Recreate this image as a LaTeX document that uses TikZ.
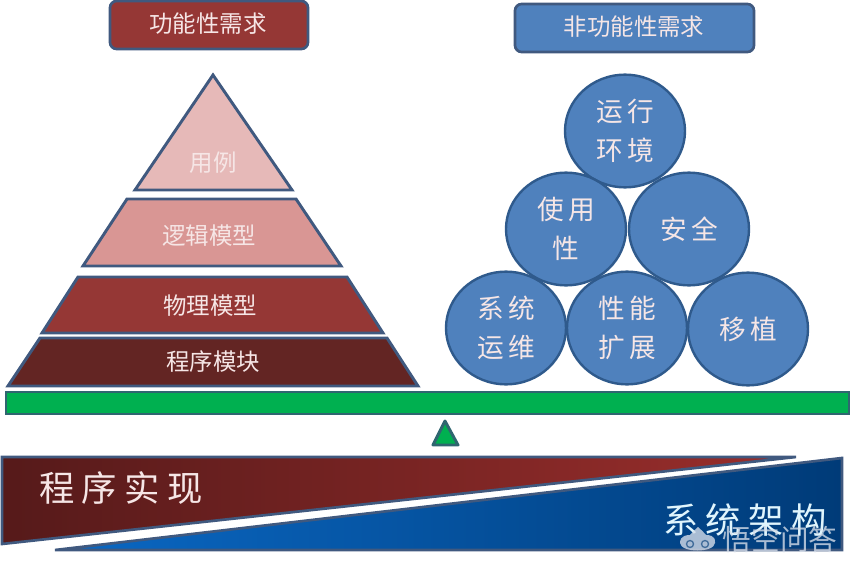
\documentclass[tikz,border=0pt]{standalone}
\usepackage{fontspec}
\usetikzlibrary{shapes.geometric}
\setmainfont{Noto Sans CJK SC}
\definecolor{edgeblue}{HTML}{40597F}
\definecolor{balledge}{HTML}{2F5A8C}
\definecolor{redmid}{HTML}{953735}
\definecolor{pale}{HTML}{E6B9B8}
\definecolor{rose}{HTML}{D99694}
\definecolor{dark}{HTML}{632523}
\definecolor{bluemid}{HTML}{4F81BD}
\definecolor{barfill}{HTML}{00B050}
\definecolor{baredge}{HTML}{2F6670}
\definecolor{inktext}{HTML}{F6E6E6}
\definecolor{wedgeredl}{HTML}{561A1A}
\definecolor{wedgeredr}{HTML}{9A2E2C}
\definecolor{wedgebluel}{HTML}{0A68C4}
\definecolor{wedgebluer}{HTML}{003B78}
\definecolor{marktext}{HTML}{D4DCE8}
\tikzset{
  head/.style={draw=edgeblue,line width=2pt,rounded corners=5pt,line join=round},
  layer/.style={draw=edgeblue,line width=2.2pt,line join=miter},
  label/.style={text=inktext,font=\fontsize{17.6}{20}\selectfont,inner sep=0pt},
  ball/.style={ellipse,draw=balledge,fill=bluemid,line width=1.8pt,minimum width=90pt,minimum height=84.5pt,inner sep=0pt,
    text=inktext,align=center,font=\fontsize{20}{29}\selectfont},
  beam/.style={draw=baredge,fill=barfill,line width=2.2pt},
  big/.style={text=inktext,font=\fontsize{26.5}{30}\selectfont,inner sep=0pt},
}
\newcommand{\gp}{\hspace{3pt}}
\newcommand{\gq}{\hspace{5.5pt}}
\begin{document}
\begin{tikzpicture}[x=0.75pt,y=-0.75pt]
\useasboundingbox (0,0) rectangle (854,571);
% headers
\draw[head,fill=redmid] (110,1) rectangle (308,49);
\node[label] (hl) at (208,24) {功能性需求};
\draw[head,fill=bluemid] (515,4) rectangle (754,52);
\node[label] (hr) at (634,27) {非功能性需求};
% pyramid
\draw[layer,fill=pale] (213,75) -- (292,190) -- (135,190) -- cycle;
\node[label] (p1) at (213,163) {用例};
\draw[layer,fill=rose] (127,199) -- (296,199) -- (341,266) -- (83,266) -- cycle;
\node[label] (p2) at (209,236) {逻辑模型};
\draw[layer,fill=redmid] (78,277) -- (347,277) -- (383,333) -- (42,333) -- cycle;
\node[label] (p3) at (210,306) {物理模型};
\draw[layer,fill=dark] (40,338) -- (387,338) -- (418,386) -- (8,386) -- cycle;
\node[label] (p4) at (213,362) {程序模块};
% balls
\node[ball] (b1) at (625,131) {运\gp 行\\环\gp 境};
\node[ball] (b2) at (566,229) {使\gp 用\\性};
\node[ball] (b3) at (689,229) {安\gp 全};
\node[ball] (b4) at (506,328) {系\gp 统\\运\gp 维};
\node[ball] (b5) at (627,328) {性\gp 能\\扩\gp 展};
\node[ball] (b6) at (748,329) {移\gp 植};
% beam and pivot
\draw[beam] (6,392) rectangle (849,414);
\draw[beam,line join=round] (445,421) -- (458,445) -- (433,445) -- cycle;
% wedges
\draw[draw=edgeblue,line width=2pt,line join=miter,left color=wedgeredl,right color=wedgeredr]
  (2,457) -- (796,457) -- (2,544) -- cycle;
\draw[draw=edgeblue,line width=2pt,line join=miter,left color=wedgebluel,right color=wedgebluer]
  (55,550) -- (842,458) -- (842,550) -- cycle;
\node[big] (tl) at (121,488) {程\gq 序\gq 实\gq 现};
\node[big,text=white!88!cyan] (tr) at (745,520) {系\gq 统\gq 架\gq 构};
% watermark
\begin{scope}[opacity=0.8]
\fill[marktext] (680,543) .. controls (680,535) and (688,535) .. (690,535) .. controls (692,532) and (695,530) .. (698,527)
  .. controls (701,530) and (704,532) .. (706,535) .. controls (708,535) and (716,535) .. (715,543)
  .. controls (714,553) and (681,553) .. (680,543) -- cycle;
\draw[wedgebluer!85!white,line width=1pt] (690,544) circle (3.5);
\draw[wedgebluer!85!white,line width=1pt] (705,544) circle (3.5);
\node[text=marktext,font=\fontsize{21.5}{24}\selectfont,inner sep=0pt] (wm) at (780,540) {悟空问答};
\end{scope}
\end{tikzpicture}
\end{document}
